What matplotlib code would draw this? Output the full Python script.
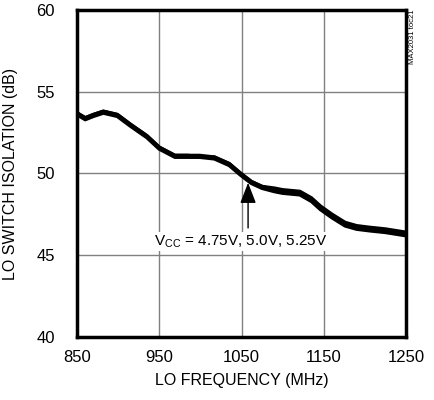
import matplotlib
matplotlib.use('Agg')
import matplotlib.pyplot as plt

# LO switch isolation vs LO frequency, three supply voltages (nearly overlapping)
freq_mhz = [850, 860, 870, 882, 899, 915, 935, 950, 969, 985, 999, 1017, 1035,
            1049, 1062, 1075, 1090, 1100, 1121, 1135, 1146, 1160, 1176, 1190,
            1206, 1225, 1250]
iso_475 = [53.7, 53.4, 53.6, 53.8, 53.6, 53.0, 52.3, 51.6, 51.1, 51.1, 51.1,
           51.0, 50.6, 50.0, 49.5, 49.2, 49.1, 49.0, 48.9, 48.5, 48.0, 47.5,
           47.0, 46.8, 46.7, 46.6, 46.4]
iso_500 = [53.7, 53.4, 53.6, 53.8, 53.6, 53.0, 52.3, 51.6, 51.1, 51.1, 51.0,
           51.0, 50.6, 50.0, 49.5, 49.2, 49.0, 48.9, 48.8, 48.4, 47.9, 47.4,
           46.9, 46.7, 46.6, 46.5, 46.3]
iso_525 = [53.6, 53.3, 53.5, 53.7, 53.5, 52.9, 52.2, 51.5, 51.0, 51.0, 51.0,
           50.9, 50.5, 49.9, 49.4, 49.1, 48.9, 48.8, 48.7, 48.3, 47.8, 47.3,
           46.8, 46.6, 46.5, 46.4, 46.2]
x_ticks = [850, 950, 1050, 1150, 1250]
y_ticks = [40, 45, 50, 55, 60]

plt.rcParams['font.family'] = ['Liberation Sans', 'DejaVu Sans']

fig = plt.figure(figsize=(4.35, 4.0), dpi=100)
ax = fig.add_axes([77 / 435, 1 - 337 / 400, 329 / 435, 327 / 400])

for series in (iso_475, iso_500, iso_525):
    ax.plot(freq_mhz, series, color='black', lw=2.6, solid_capstyle='butt')

ax.set_xlim(850, 1250)
ax.set_ylim(40, 60)
ax.set_xticks(x_ticks)
ax.set_yticks(y_ticks)
ax.grid(True, color='#808080', lw=1.0)
ax.set_axisbelow(True)
ax.tick_params(length=0, labelsize=12, pad=9)
ax.tick_params(axis='y', pad=16)
for s in ax.spines.values():
    s.set_linewidth(2.5)

ax.set_xlabel('LO FREQUENCY (MHz)', fontsize=11.5, labelpad=6)
ax.set_ylabel('LO SWITCH ISOLATION (dB)', fontsize=11.5, labelpad=13)

ax.annotate('', xy=(1058, 49.6), xytext=(1058, 46.5),
            arrowprops=dict(arrowstyle='-|>,head_length=0.9,head_width=0.35',
                            color='black', lw=1.0, mutation_scale=14))
ax.text(1049, 45.85, r'V$_{\mathregular{CC}}$ = 4.75V, 5.0V, 5.25V',
        ha='center', va='center', fontsize=11,
        bbox=dict(facecolor='white', edgecolor='none', pad=1))

fig.text(413 / 435, 1 - 9 / 400, 'MAX2031 toc21', rotation=90, fontsize=5.5,
         ha='center', va='top')

fig.savefig('out.png', dpi=100)
